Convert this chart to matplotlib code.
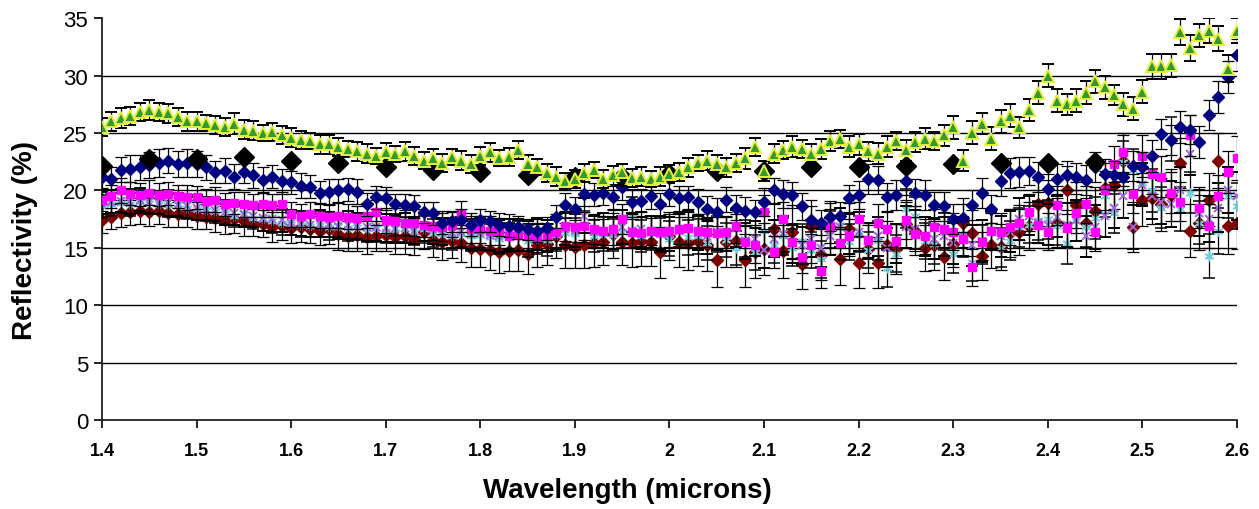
import matplotlib.pyplot as plt
import numpy as np

# wavelength grid (microns), one sample every 0.01
wavelength = np.linspace(1.40, 2.60, 121)

green = [
    25.5, 26.0, 26.3, 26.5, 26.8, 27.0, 26.8, 26.7, 26.4, 26.0,
    26.0, 25.9, 25.7, 25.5, 25.8, 25.3, 25.2, 25.0, 25.1, 24.8,
    24.6, 24.4, 24.3, 24.0, 24.0, 23.8, 23.6, 23.4, 23.2, 23.0,
    23.3, 23.2, 23.4, 23.0, 22.6, 22.8, 22.4, 22.9, 22.6, 22.3,
    23.0, 23.3, 22.8, 22.9, 23.5, 22.3, 22.0, 21.5, 21.2, 20.8,
    21.0, 21.5, 21.8, 21.0, 21.3, 21.6, 21.1, 21.2, 21.0, 21.2,
    21.4, 21.6, 22.0, 22.4, 22.6, 22.3, 22.0, 22.4, 22.8, 23.8,
    21.7, 23.2, 23.5, 23.8, 23.6, 23.2, 23.6, 24.3, 24.5, 23.8,
    24.0, 23.4, 23.2, 23.8, 24.3, 23.5, 24.2, 24.5, 24.3, 24.8,
    25.5, 22.6, 25.0, 25.8, 24.5, 26.0, 26.5, 25.5, 27.0, 28.5,
    30.0, 27.8, 27.5, 27.8, 28.5, 29.5, 29.0, 28.3, 27.5, 27.1,
    28.6, 30.8, 30.8, 30.9, 33.8, 32.4, 33.5, 33.9, 33.2, 30.6,
    33.9]
green_err = [
    0.8, 0.8, 0.9, 0.8, 0.8, 0.9, 0.8, 0.8, 0.8, 0.8,
    0.8, 0.7, 0.8, 0.8, 0.9, 0.8, 0.8, 0.7, 0.8, 0.8,
    0.8, 0.8, 0.7, 0.8, 0.8, 0.8, 0.7, 0.8, 0.8, 0.7,
    0.8, 0.7, 0.8, 0.8, 0.7, 0.8, 0.8, 0.7, 0.8, 0.8,
    0.8, 0.8, 0.7, 0.8, 0.8, 0.8, 0.7, 0.8, 0.8, 0.7,
    0.8, 0.8, 0.7, 0.8, 0.8, 0.7, 0.8, 0.8, 0.7, 0.8,
    0.8, 0.8, 0.8, 0.7, 0.8, 0.8, 0.8, 0.8, 0.9, 0.8,
    0.9, 0.8, 0.8, 0.9, 0.8, 0.8, 0.9, 0.9, 0.8, 0.9,
    0.9, 0.8, 0.9, 0.9, 0.8, 0.9, 0.9, 0.9, 0.8, 0.9,
    1.0, 0.9, 1.0, 0.9, 1.0, 1.0, 1.0, 0.9, 1.0, 1.0,
    1.0, 1.0, 0.9, 1.0, 1.0, 1.0, 1.0, 0.9, 1.0, 1.0,
    1.0, 1.1, 1.1, 1.0, 1.1, 1.1, 1.0, 1.1, 1.1, 1.2,
    1.1]

navy = [
    21.2, 21.0, 21.8, 21.9, 22.0, 22.2, 22.4, 22.6, 22.3, 22.4,
    22.3, 22.0, 21.6, 21.7, 21.2, 21.6, 21.3, 20.9, 21.2, 20.8,
    20.7, 20.4, 20.3, 19.8, 19.9, 20.0, 20.1, 19.9, 18.8, 19.4,
    19.3, 18.8, 18.7, 18.6, 18.1, 18.0, 17.2, 17.3, 17.4, 17.0,
    17.4, 17.3, 17.0, 16.9, 16.8, 16.6, 16.5, 16.7, 17.7, 18.7,
    18.4, 19.7, 19.6, 19.8, 19.4, 20.3, 19.0, 19.1, 19.5, 18.8,
    19.7, 19.3, 19.4, 19.0, 18.4, 18.1, 19.2, 18.5, 18.2, 18.1,
    19.0, 20.0, 19.7, 19.6, 18.6, 17.4, 17.2, 17.7, 17.8, 19.3,
    19.6, 21.0, 20.9, 19.4, 19.6, 20.8, 19.8, 19.6, 18.7, 18.6,
    17.5, 17.6, 18.7, 19.8, 18.4, 20.8, 21.5, 21.6, 21.7, 21.2,
    20.1, 21.0, 21.3, 21.2, 20.9, 22.0, 21.4, 21.3, 21.2, 22.1,
    22.0, 23.0, 24.9, 24.4, 25.5, 25.3, 24.2, 26.6, 28.1, 29.9,
    31.8]
navy_err = [
    1.1, 1.0, 1.1, 1.2, 1.1, 1.1, 1.2, 1.1, 1.1, 1.2,
    1.1, 1.1, 1.0, 1.1, 1.1, 1.0, 1.1, 1.1, 1.0, 1.1,
    1.0, 1.1, 1.0, 1.0, 1.1, 1.0, 1.0, 1.1, 1.0, 1.0,
    1.0, 0.9, 1.0, 1.0, 0.9, 1.0, 1.0, 0.9, 1.0, 1.0,
    1.0, 0.9, 1.0, 1.0, 1.0, 0.9, 1.0, 1.0, 1.0, 1.1,
    1.0, 1.1, 1.0, 1.1, 1.0, 1.1, 1.1, 1.0, 1.1, 1.0,
    1.1, 1.1, 1.0, 1.1, 1.1, 1.2, 1.1, 1.1, 1.2, 1.1,
    1.2, 1.1, 1.2, 1.1, 1.2, 1.2, 1.1, 1.2, 1.2, 1.2,
    1.2, 1.3, 1.2, 1.2, 1.3, 1.2, 1.2, 1.3, 1.2, 1.3,
    1.3, 1.2, 1.3, 1.3, 1.2, 1.3, 1.3, 1.3, 1.2, 1.3,
    1.3, 1.3, 1.3, 1.2, 1.3, 1.3, 1.3, 1.3, 1.2, 1.3,
    1.3, 1.4, 1.3, 1.3, 1.4, 1.3, 1.4, 1.3, 1.4, 1.4,
    1.4]

magenta = [
    19.2, 19.5, 20.0, 19.7, 19.6, 19.8, 19.6, 19.7, 19.5, 19.4,
    19.4, 19.1, 19.2, 18.8, 18.9, 18.8, 18.7, 18.8, 18.7, 18.8,
    17.9, 17.8, 17.9, 17.8, 17.7, 17.8, 17.7, 17.6, 17.8, 18.1,
    17.4, 17.3, 17.2, 17.2, 17.0, 16.9, 16.8, 17.0, 17.9, 16.6,
    16.6, 16.5, 16.4, 16.0, 16.1, 16.0, 15.9, 16.0, 16.4, 16.9,
    16.8, 16.9, 16.6, 16.5, 16.6, 17.5, 16.4, 16.3, 16.5, 16.4,
    16.5, 16.6, 16.7, 16.5, 16.4, 16.3, 16.4, 16.9, 15.5, 15.2,
    18.1, 14.6, 17.5, 15.5, 14.2, 15.2, 13.0, 16.9, 15.4, 16.0,
    17.5, 15.7, 17.2, 16.6, 15.6, 17.4, 16.2, 16.0, 16.8, 16.6,
    16.4, 15.8, 13.3, 15.5, 16.5, 16.4, 16.8, 17.2, 18.1, 17.0,
    16.4, 18.7, 16.7, 18.0, 18.8, 16.4, 20.0, 22.3, 23.3, 19.7,
    23.0, 21.4, 21.2, 19.8, 19.0, 24.8, 18.5, 16.9, 19.5, 21.6,
    22.8]
magenta_err = [
    1.0, 1.0, 1.1, 1.0, 1.0, 1.1, 1.0, 1.0, 1.0, 1.1,
    1.0, 1.0, 1.1, 1.0, 1.0, 1.1, 1.0, 1.1, 1.0, 1.1,
    1.1, 1.0, 1.1, 1.1, 1.0, 1.1, 1.1, 1.0, 1.1, 1.1,
    1.1, 1.2, 1.1, 1.2, 1.1, 1.2, 1.2, 1.1, 1.2, 1.2,
    1.2, 1.3, 1.2, 1.2, 1.3, 1.2, 1.3, 1.2, 1.3, 1.3,
    1.3, 1.2, 1.3, 1.3, 1.4, 1.3, 1.3, 1.4, 1.3, 1.4,
    1.4, 1.3, 1.4, 1.4, 1.3, 1.4, 1.4, 1.5, 1.4, 1.5,
    1.5, 1.4, 1.5, 1.5, 1.4, 1.5, 1.5, 1.5, 1.4, 1.5,
    1.5, 1.5, 1.6, 1.5, 1.5, 1.6, 1.5, 1.5, 1.6, 1.5,
    1.6, 1.5, 1.6, 1.6, 1.5, 1.6, 1.6, 1.5, 1.6, 1.6,
    1.6, 1.7, 1.6, 1.7, 1.6, 1.7, 1.7, 1.6, 1.7, 1.7,
    1.8, 1.7, 1.8, 1.8, 1.7, 1.8, 1.8, 1.9, 1.8, 1.8,
    1.9]

cyan = [
    18.6, 18.8, 18.9, 18.8, 19.0, 18.9, 18.8, 18.7, 18.8, 18.5,
    18.4, 18.3, 18.2, 18.0, 17.8, 17.9, 17.6, 17.5, 17.3, 17.2,
    17.1, 17.0, 16.9, 17.0, 16.8, 16.9, 16.7, 16.8, 16.6, 16.7,
    16.5, 16.7, 16.6, 16.4, 16.6, 16.3, 16.2, 16.0, 16.2, 16.0,
    16.1, 15.9, 15.8, 15.9, 16.0, 15.6, 15.8, 15.7, 16.1, 16.3,
    16.2, 16.8, 16.0, 16.2, 16.1, 16.4, 17.9, 16.0, 16.3, 16.1,
    15.8, 16.5, 15.9, 16.0, 15.4, 16.2, 15.7, 15.0, 15.8, 14.6,
    16.5, 15.2, 16.0, 15.0, 15.6, 14.8, 14.0, 16.6, 17.0, 15.5,
    16.2, 14.8, 15.6, 13.2, 14.5, 18.4, 17.8, 15.6, 15.3, 16.4,
    14.5, 15.8, 13.8, 15.3, 16.5, 15.0, 15.6, 16.8, 17.0, 17.4,
    17.5, 16.9, 15.4, 17.3, 16.8, 17.6, 19.5, 18.0, 22.5, 21.8,
    20.6, 20.0, 18.5, 24.5, 18.4, 19.8, 17.2, 14.3, 16.5, 19.5,
    18.6]
cyan_err = [
    1.0, 1.0, 0.9, 1.0, 1.0, 1.0, 0.9, 1.0, 1.0, 1.0,
    1.0, 1.0, 1.0, 0.9, 1.0, 1.0, 1.0, 1.0, 1.0, 1.1,
    1.0, 1.1, 1.0, 1.1, 1.1, 1.0, 1.1, 1.1, 1.1, 1.2,
    1.1, 1.2, 1.1, 1.2, 1.2, 1.2, 1.3, 1.2, 1.2, 1.3,
    1.3, 1.2, 1.3, 1.3, 1.3, 1.4, 1.3, 1.4, 1.4, 1.3,
    1.4, 1.4, 1.4, 1.5, 1.4, 1.4, 1.5, 1.4, 1.5, 1.5,
    1.5, 1.4, 1.5, 1.5, 1.5, 1.6, 1.5, 1.5, 1.6, 1.5,
    1.6, 1.5, 1.6, 1.6, 1.5, 1.6, 1.6, 1.6, 1.5, 1.6,
    1.6, 1.6, 1.7, 1.6, 1.6, 1.7, 1.6, 1.6, 1.7, 1.6,
    1.7, 1.6, 1.7, 1.7, 1.6, 1.7, 1.7, 1.7, 1.6, 1.7,
    1.7, 1.7, 1.8, 1.7, 1.7, 1.8, 1.8, 1.7, 1.8, 1.8,
    1.8, 1.9, 1.8, 1.9, 1.9, 1.8, 1.9, 1.9, 2.0, 1.9,
    2.0]

purple = [
    18.9, 19.0, 19.1, 19.0, 19.2, 19.0, 18.9, 18.9, 18.7, 18.6,
    18.5, 18.4, 18.3, 18.1, 18.0, 17.9, 17.8, 17.6, 17.5, 17.4,
    17.2, 17.1, 17.0, 17.1, 17.0, 16.9, 17.0, 16.9, 16.8, 16.8,
    16.7, 16.6, 16.7, 16.5, 16.8, 16.6, 16.4, 16.3, 16.4, 16.2,
    16.3, 16.1, 16.0, 16.2, 16.1, 16.0, 16.2, 16.0, 16.3, 16.6,
    16.5, 17.8, 16.4, 16.5, 16.3, 16.8, 16.5, 16.6, 16.4, 16.3,
    16.2, 16.5, 16.6, 16.3, 16.0, 16.4, 16.2, 16.7, 15.6, 15.8,
    14.8, 15.8, 16.2, 15.4, 15.2, 15.8, 15.0, 16.0, 16.8, 16.2,
    16.4, 15.6, 16.0, 15.0, 15.4, 16.8, 16.6, 16.0, 15.8, 16.0,
    15.4, 16.0, 15.2, 15.6, 16.5, 16.0, 16.4, 17.5, 17.8, 17.2,
    17.0, 17.7, 17.0, 17.4, 16.0, 16.8, 17.8, 18.5, 19.5, 16.8,
    20.5, 19.5, 19.0, 18.8, 20.0, 23.2, 18.0, 17.5, 18.5, 20.0,
    19.5]
purple_err = [
    1.0, 1.0, 1.0, 1.1, 1.0, 1.0, 1.0, 1.1, 1.0, 1.0,
    1.1, 1.0, 1.0, 1.1, 1.0, 1.1, 1.0, 1.1, 1.1, 1.0,
    1.1, 1.1, 1.1, 1.2, 1.1, 1.1, 1.2, 1.1, 1.2, 1.2,
    1.2, 1.2, 1.3, 1.2, 1.2, 1.3, 1.2, 1.3, 1.3, 1.3,
    1.3, 1.3, 1.4, 1.3, 1.4, 1.3, 1.4, 1.4, 1.4, 1.4,
    1.4, 1.5, 1.4, 1.5, 1.4, 1.5, 1.5, 1.5, 1.4, 1.5,
    1.5, 1.5, 1.6, 1.5, 1.5, 1.6, 1.5, 1.6, 1.6, 1.5,
    1.6, 1.6, 1.6, 1.7, 1.6, 1.6, 1.7, 1.6, 1.7, 1.7,
    1.7, 1.6, 1.7, 1.7, 1.7, 1.8, 1.7, 1.7, 1.8, 1.7,
    1.8, 1.7, 1.8, 1.8, 1.7, 1.8, 1.8, 1.8, 1.7, 1.8,
    1.8, 1.8, 1.9, 1.8, 1.8, 1.9, 1.9, 1.8, 1.9, 1.9,
    1.9, 2.0, 1.9, 2.0, 2.0, 1.9, 2.0, 2.0, 2.1, 2.0,
    2.1]

darkred = [
    17.4, 17.7, 18.0, 18.1, 18.2, 18.1, 18.2, 18.0, 17.9, 18.0,
    17.8, 17.7, 17.6, 17.4, 17.5, 17.3, 17.2, 17.1, 16.8, 16.9,
    16.7, 16.8, 16.6, 16.5, 16.6, 16.2, 16.0, 16.1, 15.9, 16.0,
    16.1, 15.9, 16.0, 15.8, 16.4, 15.7, 15.5, 15.6, 15.4, 15.0,
    14.9, 14.8, 14.6, 14.7, 14.8, 14.5, 15.2, 15.3, 16.0, 15.2,
    15.1, 15.2, 15.4, 15.5, 16.2, 15.5, 15.4, 15.6, 15.5, 14.6,
    16.0, 15.5, 15.4, 15.6, 15.2, 13.9, 15.5, 15.6, 13.9, 14.6,
    14.9, 16.6, 14.7, 16.4, 13.6, 16.9, 14.4, 16.8, 14.0, 16.6,
    13.7, 14.9, 13.7, 15.2, 14.9, 17.1, 16.5, 15.0, 15.2, 14.2,
    15.3, 17.2, 16.3, 14.3, 15.2, 15.1, 16.3, 16.4, 16.9, 18.8,
    18.9, 17.2, 20.0, 18.7, 17.2, 18.2, 20.2, 20.5, 22.6, 16.8,
    19.2, 19.3, 18.8, 19.6, 22.4, 16.5, 17.2, 19.2, 22.6, 16.9,
    17.2]
darkred_err = [
    1.1, 1.1, 1.2, 1.1, 1.1, 1.2, 1.1, 1.2, 1.1, 1.2,
    1.2, 1.1, 1.2, 1.2, 1.2, 1.3, 1.2, 1.2, 1.3, 1.2,
    1.3, 1.3, 1.2, 1.3, 1.3, 1.4, 1.3, 1.4, 1.4, 1.3,
    1.4, 1.4, 1.5, 1.4, 1.5, 1.5, 1.6, 1.5, 1.6, 1.7,
    1.6, 1.7, 1.8, 1.7, 1.8, 1.8, 1.9, 1.8, 1.9, 2.0,
    1.9, 2.0, 2.1, 2.0, 2.1, 2.0, 2.1, 2.2, 2.1, 2.2,
    2.1, 2.2, 2.3, 2.2, 2.2, 2.3, 2.2, 2.3, 2.3, 2.2,
    2.3, 2.2, 2.3, 2.3, 2.2, 2.3, 2.2, 2.3, 2.2, 2.3,
    2.2, 2.1, 2.2, 2.1, 2.2, 2.1, 2.1, 2.0, 2.1, 2.0,
    2.0, 2.1, 2.0, 2.1, 2.0, 2.0, 2.1, 2.0, 2.1, 2.1,
    2.0, 2.1, 2.1, 2.0, 2.1, 2.1, 2.2, 2.1, 2.2, 2.2,
    2.3, 2.2, 2.3, 2.3, 2.2, 2.3, 2.4, 2.3, 2.4, 2.4,
    2.3]

# large black reference diamonds every 0.05 micron
ref_wavelength = np.linspace(1.40, 2.45, 22)
ref_black = [22.1, 22.7, 22.7, 22.9, 22.6, 22.4, 22.0, 21.8, 21.6, 21.3, 21.2,
             21.2, 21.4, 21.7, 21.7, 22.0, 22.0, 22.1, 22.3, 22.4, 22.4, 22.5]

plt.rcParams['font.family'] = ['Liberation Sans', 'DejaVu Sans']

fig = plt.figure(figsize=(12.59, 5.10), dpi=100)
ax = fig.add_axes([0.081, 0.1745, 0.9015, 0.788])

bar_kw = dict(linestyle='none', ecolor='black', elinewidth=0.9, capsize=4,
              capthick=0.9)

series = [
    (darkred, darkred_err, dict(marker='D', markersize=6, color='#800000')),
    (cyan, cyan_err, dict(marker=(6, 2, 0), markersize=7, color='#6fd0e0',
                          markeredgewidth=1.1)),
    (purple, purple_err, dict(marker='x', markersize=6, color='#a066dd',
                              markeredgewidth=1.4)),
    (magenta, magenta_err, dict(marker='s', markersize=6, color='#ff00ff')),
    (navy, navy_err, dict(marker='D', markersize=6, color='#000080')),
]
for i, (vals, errs, style) in enumerate(series):
    ax.errorbar(wavelength, vals, yerr=errs, zorder=3 + i, **bar_kw, **style)

ax.plot(ref_wavelength, ref_black, linestyle='none', marker='D',
        markersize=10, color='black', zorder=9)

ax.errorbar(wavelength, green, yerr=green_err, zorder=10, marker='^',
            markersize=8.5, markerfacecolor='#339933',
            markeredgecolor='#e6f03c', markeredgewidth=1.4, **bar_kw)

ax.set_xlim(1.4, 2.6)
ax.set_ylim(0, 35)
ax.set_xticks(np.linspace(1.4, 2.6, 13))
ax.set_xticklabels(['1.4', '1.5', '1.6', '1.7', '1.8', '1.9', '2', '2.1',
                    '2.2', '2.3', '2.4', '2.5', '2.6'])
ax.set_yticks(range(0, 36, 5))

for y in range(5, 31, 5):
    ax.axhline(y, color='black', linewidth=1.0, zorder=1)

for side in ['top', 'right']:
    ax.spines[side].set_visible(False)
for side in ['left', 'bottom']:
    ax.spines[side].set_linewidth(1.3)
    ax.spines[side].set_color('#222222')

ax.tick_params(axis='x', direction='out', length=6, width=1.2, pad=10,
               labelsize=13)
ax.tick_params(axis='y', direction='out', length=6, width=1.2, pad=4,
               labelsize=16)
for lbl in ax.get_xticklabels():
    lbl.set_fontweight('bold')

ax.set_xlabel('Wavelength (microns)', fontsize=20, fontweight='bold')
ax.set_ylabel('Reflectivity (%)', fontsize=20, fontweight='bold')
ax.xaxis.set_label_coords(0.4626, -0.142)
ax.yaxis.set_label_coords(-0.056, 0.448)

fig.savefig('out.png', dpi=100)
